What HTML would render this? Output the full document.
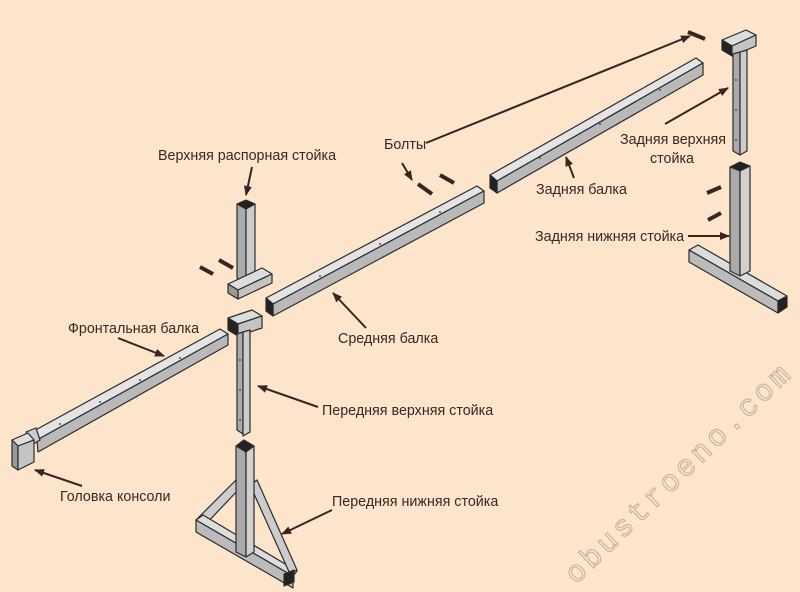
<!DOCTYPE html>
<html><head><meta charset="utf-8"><style>
html,body{margin:0;padding:0;background:#fde5cc;}
svg{display:block}
text{font-family:"Liberation Sans",sans-serif;font-size:14.3px;fill:#3a2626}
</style></head><body>
<svg width="800" height="592" viewBox="0 0 800 592" xmlns="http://www.w3.org/2000/svg">
<defs>
<marker id="a" markerWidth="10" markerHeight="8" refX="9" refY="4" orient="auto" markerUnits="userSpaceOnUse">
<path d="M0,0 L10,4 L0,8 Z" fill="#3d2222"/></marker>
</defs>
<rect width="800" height="592" fill="#fde5cc"/>
<text x="0" y="0" transform="translate(576,585) rotate(-44)" textLength="300" style="font-family:'Liberation Mono',monospace;font-size:30px;fill:none;stroke:#c2ae9a;stroke-width:1">obustroeno.com</text>

<g stroke="#2b2b2b" stroke-width="1.2" stroke-linejoin="round">
<!-- frontal beam -->
<polygon points="30,433 220,329 228,334 37,440" fill="#e4e4e4"/>
<polygon points="37,440 228,334 228,345 38,452" fill="#b9b9b9"/>
<!-- head -->
<polygon points="26,432 36,428 40,440 30,446" fill="#ccc"/>
<polygon points="12,440 28,433 34,440 18,446" fill="#ddd"/>
<polygon points="12,440 18,446 18,470 12,466" fill="#999"/>
<polygon points="18,446 34,440 34,462 18,470" fill="#c4c4c4"/>

<!-- front upper post -->
<polygon points="228,318 252,310 262,316 238,324" fill="#ddd"/>
<polygon points="228,318 238,324 238,336 228,330" fill="#222"/>
<polygon points="238,324 262,316 262,328 238,336" fill="#c4c4c4"/>
<polygon points="237,334 243,332 243,434 237,430" fill="#aaa"/>
<polygon points="243,332 250,330 250,432 243,436" fill="#ccc"/>

<!-- front lower post -->
<polygon points="196,520 236,480 241,487 203,527" fill="#ccc"/>
<polygon points="196,520 293,576 293,588 196,532" fill="#bbb"/>
<polygon points="196,520 203,515 297,571 293,576" fill="#ddd"/>
<polygon points="250,485 257,480 297,570 290,574" fill="#ccc"/>
<polygon points="236,446 244,440 254,446 246,452" fill="#222"/>
<polygon points="236,446 246,452 246,557 236,552" fill="#aaa"/>
<polygon points="246,452 254,446 254,552 246,557" fill="#d0d0d0"/>
<polygon points="284,574 294,570 294,582 284,586" fill="#222"/>

<!-- spacer post -->
<polygon points="237,204 246,200 255,204 246,209" fill="#222"/>
<polygon points="237,204 246,209 246,282 237,278" fill="#aaa"/>
<polygon points="246,209 255,204 255,278 246,282" fill="#ccc"/>
<polygon points="228,284 262,268 272,274 238,290" fill="#ddd"/>
<polygon points="238,290 272,274 272,283 238,299" fill="#c4c4c4"/>
<polygon points="228,284 238,290 238,299 228,293" fill="#999"/>

<!-- middle beam -->
<polygon points="266,298 477,186 484,191 273,304" fill="#e4e4e4"/>
<polygon points="273,304 484,191 484,203 273,316" fill="#b9b9b9"/>
<polygon points="266,298 273,304 273,316 266,311" fill="#222"/>

<!-- rear beam -->
<polygon points="490,175 696,58 703,63 497,181" fill="#e4e4e4"/>
<polygon points="497,181 703,63 703,75 497,193" fill="#b9b9b9"/>
<polygon points="490,175 497,181 497,193 490,188" fill="#222"/>

<!-- rear upper post -->
<polygon points="722,40 746,30 756,35 732,46" fill="#ddd"/>
<polygon points="722,40 732,46 732,56 722,50" fill="#222"/>
<polygon points="732,46 756,35 756,46 732,56" fill="#c4c4c4"/>
<polygon points="733,54 740,52 740,155 733,151" fill="#aaa"/>
<polygon points="740,52 747,50 747,151 740,155" fill="#ccc"/>

<!-- rear lower post -->
<polygon points="689,250 698,245 787,296 778,301" fill="#ddd"/>
<polygon points="689,250 778,301 778,313 689,262" fill="#bbb"/>
<polygon points="778,301 787,296 787,307 778,313" fill="#222"/>
<polygon points="730,167 740,162 750,166 740,171" fill="#222"/>
<polygon points="730,167 740,171 740,276 730,271" fill="#aaa"/>
<polygon points="740,171 750,166 750,271 740,276" fill="#d0d0d0"/>
</g>

<!-- bolts -->
<g stroke="#3d2222" stroke-width="4" stroke-linecap="butt">
<line x1="200" y1="267" x2="213" y2="274"/>
<line x1="219" y1="260" x2="233" y2="268"/>
<line x1="418" y1="184" x2="432" y2="194"/>
<line x1="440" y1="175" x2="454" y2="183"/>
<line x1="688" y1="32" x2="705" y2="39"/>
<line x1="707" y1="193" x2="721" y2="187"/>
<line x1="708" y1="220" x2="721" y2="213"/>
</g>

<!-- holes -->
<g fill="#555">
<circle cx="60" cy="424" r="1"/><circle cx="100" cy="402" r="1"/><circle cx="140" cy="380" r="1"/><circle cx="180" cy="358" r="1"/>
<circle cx="320" cy="276" r="1"/><circle cx="380" cy="244" r="1"/><circle cx="440" cy="212" r="1"/>
<circle cx="540" cy="158" r="1"/><circle cx="600" cy="124" r="1"/><circle cx="660" cy="90" r="1"/>
<circle cx="240" cy="360" r="1"/><circle cx="240" cy="390" r="1"/><circle cx="240" cy="420" r="1"/>
<circle cx="736" cy="80" r="1"/><circle cx="736" cy="110" r="1"/><circle cx="736" cy="140" r="1"/>
</g>

<!-- arrows -->
<g stroke="#3d2222" stroke-width="2" fill="none" marker-end="url(#a)">
<line x1="252" y1="167" x2="246" y2="195"/>
<line x1="426" y1="143" x2="690" y2="36"/>
<line x1="402" y1="163" x2="412" y2="180"/>
<line x1="665" y1="124" x2="728" y2="88"/>
<line x1="574" y1="178" x2="566" y2="157"/>
<line x1="688" y1="236" x2="729" y2="236"/>
<line x1="118" y1="338" x2="164" y2="356"/>
<line x1="366" y1="328" x2="333" y2="293"/>
<line x1="318" y1="407" x2="258" y2="386"/>
<line x1="82" y1="486" x2="35" y2="470"/>
<line x1="332" y1="510" x2="282" y2="534"/>
</g>

<text x="158" y="160">Верхняя распорная стойка</text>
<text x="384" y="149">Болты</text>
<text x="620" y="144">Задняя верхняя</text>
<text x="650" y="163">стойка</text>
<text x="536" y="194">Задняя балка</text>
<text x="535" y="241">Задняя нижняя стойка</text>
<text x="68" y="333">Фронтальная балка</text>
<text x="338" y="343">Средняя балка</text>
<text x="322" y="415">Передняя верхняя стойка</text>
<text x="60" y="501">Головка консоли</text>
<text x="332" y="506">Передняя нижняя стойка</text>
</svg>
</body></html>
